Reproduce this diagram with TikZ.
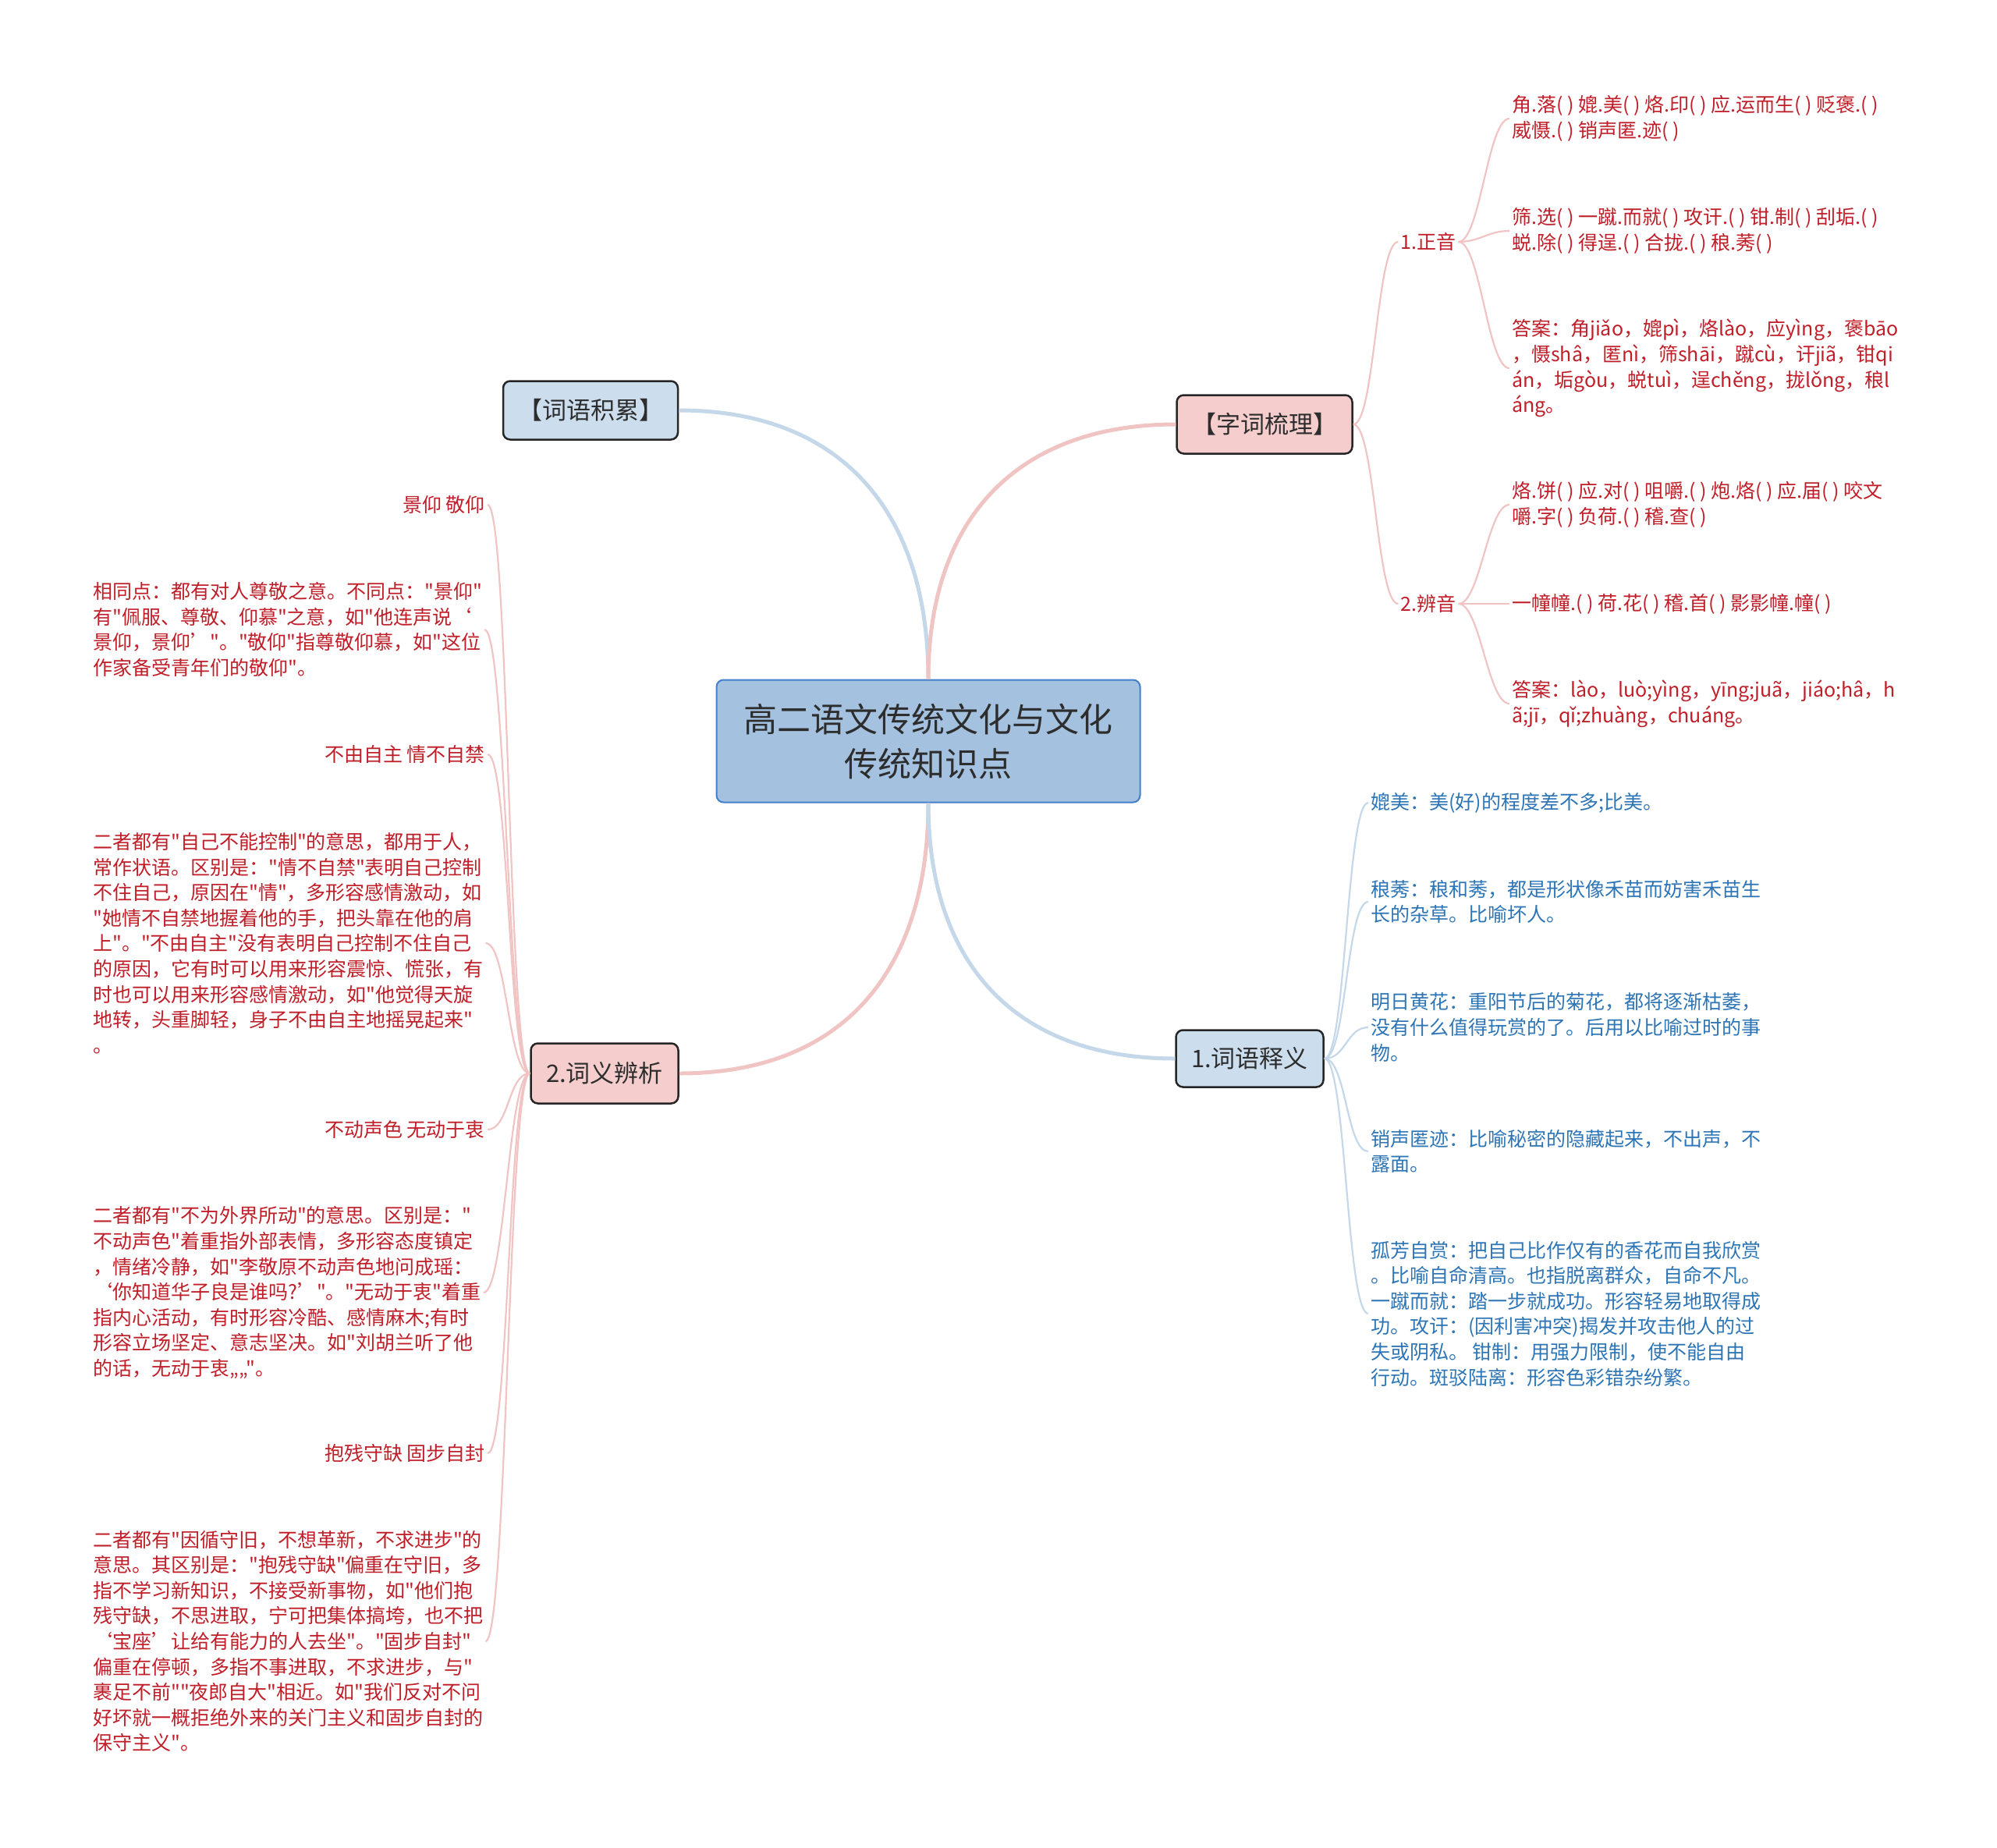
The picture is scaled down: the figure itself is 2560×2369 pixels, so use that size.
\documentclass[tikz,border=0pt]{standalone}
\usepackage{fontspec}
\setmainfont{Noto Sans CJK SC}[Ligatures=TeXOff]

\definecolor{rootfill}{RGB}{164,194,224}
\definecolor{rootline}{RGB}{66,128,204}
\definecolor{bluefill}{RGB}{204,222,238}
\definecolor{pinkfill}{RGB}{245,205,205}
\definecolor{bluelinkc}{RGB}{196,216,234}
\definecolor{pinklinkc}{RGB}{241,196,196}
\definecolor{redtext}{RGB}{192,30,40}
\definecolor{bluetext}{RGB}{46,117,182}
\definecolor{darktext}{RGB}{45,45,45}

\begin{document}
\begin{tikzpicture}[
  x=1pt, y=-1pt,
  every node/.style={font=\fontsize{25}{32.6}\selectfont},
  rootnode/.style={rectangle, draw=rootline, fill=rootfill, line width=2pt, rounded corners=9pt, minimum width=543pt, minimum height=157pt, align=center, text=darktext, font=\fontsize{43}{57}\selectfont},
  topicblue/.style={rectangle, draw=black!85, fill=bluefill, line width=2.5pt, rounded corners=9pt, minimum height=75pt, text=darktext, font=\fontsize{31}{37}\selectfont},
  topicpink/.style={topicblue, fill=pinkfill},
  leafred/.style={text=redtext, align=left, inner sep=3pt},
  leafblue/.style={text=bluetext, align=left, inner sep=3pt},
  hooklink/.style={to path={.. controls +(#1,0) and +(-#1,0) .. (\tikztotarget)}},
  bluelink/.style={draw=bluelinkc, line width=5pt},
  pinklink/.style={draw=pinklinkc, line width=5pt},
  thinpink/.style={draw=pinklinkc, line width=2.2pt, hooklink=28},
  thinblue/.style={draw=bluelinkc, line width=2.2pt, hooklink=28},
]

% page
\path[use as bounding box, fill=white] (0,0) rectangle (2560,2369);

% Root and main topics
\node[rootnode] (root) at (1190, 950) {高二语文传统文化与文化\\传统知识点};
\node[topicblue, minimum width=224pt] (jilei) at (757, 526) {【词语积累】};
\node[topicpink, minimum width=225pt] (shuli) at (1621, 544) {【字词梳理】};
\node[topicpink, minimum width=189pt, minimum height=77pt] (bianxi) at (775, 1376) {2.词义辨析};
\node[topicblue, minimum width=189pt, minimum height=73pt] (shiyi) at (1602, 1357) {1.词语释义};
\draw[bluelink] (root.north) to[out=90, in=0, looseness=1.15] (jilei.east);
\draw[pinklink] (root.north) to[out=90, in=180, looseness=1.15] (shuli.west);
\draw[pinklink] (root.south) to[out=-90, in=0, looseness=1.15] (bianxi.east);
\draw[bluelink] (root.south) to[out=-90, in=180, looseness=1.15] (shiyi.west);

% 字词梳理 (right, top)
\node[leafred] (zhengyin) at (1831, 310) {1.正音};
\node[leafred] (bianyin) at (1831, 774) {2.辨音};
\draw[thinpink] (shuli.east) to (zhengyin.west);
\draw[thinpink] (shuli.east) to (bianyin.west);

\node[leafred, anchor=west] (za) at (1935, 152) {角.落( ) 媲.美( ) 烙.印( ) 应.运而生( ) 贬褒.( )\\
威慑.( ) 销声匿.迹( )};
\node[leafred, anchor=west] (zb) at (1935, 296) {筛.选( ) 一蹴.而就( ) 攻讦.( ) 钳.制( ) 刮垢.( )\\
蜕.除( ) 得逞.( ) 合拢.( ) 稂.莠( )};
\node[leafred, anchor=west] (zc) at (1935, 472) {答案：角jiǎo，媲pì，烙lào，应yìng，褒bāo\\
，慑shâ，匿nì，筛shāi，蹴cù，讦jiã，钳qi\\
án，垢gòu，蜕tuì，逞chěng，拢lǒng，稂l\\
áng。};
\draw[thinpink] (zhengyin.east) to (za.west);
\draw[thinpink] (zhengyin.east) to (zb.west);
\draw[thinpink] (zhengyin.east) to (zc.west);

\node[leafred, anchor=west] (ba) at (1935, 647) {烙.饼( ) 应.对( ) 咀嚼.( ) 炮.烙( ) 应.届( ) 咬文\\
嚼.字( ) 负荷.( ) 稽.查( )};
\node[leafred, anchor=west] (bb) at (1935, 774) {一幢幢.( ) 荷.花( ) 稽.首( ) 影影幢.幢( )};
\node[leafred, anchor=west] (bc) at (1935, 902) {答案：lào，luò;yìng，yīng;juã，jiáo;hâ，h\\
ã;jī，qǐ;zhuàng，chuáng。};
\draw[thinpink] (bianyin.east) to (ba.west);
\draw[thinpink] (bianyin.east) to (bb.west);
\draw[thinpink] (bianyin.east) to (bc.west);

% 词语释义 (right, bottom)
\node[leafblue, anchor=west] (sa) at (1754, 1029) {媲美：美(好)的程度差不多;比美。};
\node[leafblue, anchor=west] (sb) at (1754, 1156) {稂莠：稂和莠，都是形状像禾苗而妨害禾苗生\\
长的杂草。比喻坏人。};
\node[leafblue, anchor=west] (sc) at (1754, 1317) {明日黄花：重阳节后的菊花，都将逐渐枯萎，\\
没有什么值得玩赏的了。后用以比喻过时的事\\
物。};
\node[leafblue, anchor=west] (sd) at (1754, 1476) {销声匿迹：比喻秘密的隐藏起来，不出声，不\\
露面。};
\node[leafblue, anchor=west] (se) at (1754, 1684) {孤芳自赏：把自己比作仅有的香花而自我欣赏\\
。比喻自命清高。也指脱离群众，自命不凡。\\
一蹴而就：踏一步就成功。形容轻易地取得成\\
功。攻讦：(因利害冲突)揭发并攻击他人的过\\
失或阴私。 钳制：用强力限制，使不能自由\\
行动。斑驳陆离：形容色彩错杂纷繁。};
\draw[thinblue] (shiyi.east) to (sa.west);
\draw[thinblue] (shiyi.east) to (sb.west);
\draw[thinblue] (shiyi.east) to (sc.west);
\draw[thinblue] (shiyi.east) to (sd.west);
\draw[thinblue] (shiyi.east) to (se.west);

% 词义辨析 (left)
\node[leafred, anchor=east] (la) at (625, 647) {景仰 敬仰};
\node[leafred, anchor=west] (lb) at (116, 807) {相同点：都有对人尊敬之意。不同点："景仰"\\
有"佩服、尊敬、仰慕"之意，如"他连声说‘\\
景仰，景仰’"。"敬仰"指尊敬仰慕，如"这位\\
作家备受青年们的敬仰"。};
\node[leafred, anchor=east] (lc) at (625, 967) {不由自主 情不自禁};
\node[leafred, anchor=west] (ld) at (116, 1209) {二者都有"自己不能控制"的意思，都用于人，\\
常作状语。区别是："情不自禁"表明自己控制\\
不住自己，原因在"情"，多形容感情激动，如\\
"她情不自禁地握着他的手，把头靠在他的肩\\
上"。"不由自主"没有表明自己控制不住自己\\
的原因，它有时可以用来形容震惊、慌张，有\\
时也可以用来形容感情激动，如"他觉得天旋\\
地转，头重脚轻，身子不由自主地摇晃起来"\\
。};
\node[leafred, anchor=east] (le) at (625, 1448) {不动声色 无动于衷};
\node[leafred, anchor=west] (lf) at (116, 1657) {二者都有"不为外界所动"的意思。区别是："\\
不动声色"着重指外部表情，多形容态度镇定\\
，情绪冷静，如"李敬原不动声色地问成瑶：\\
‘你知道华子良是谁吗?’"。"无动于衷"着重\\
指内心活动，有时形容冷酷、感情麻木;有时\\
形容立场坚定、意志坚决。如"刘胡兰听了他\\
的话，无动于衷„„"。};
\node[leafred, anchor=east] (lg) at (625, 1863) {抱残守缺 固步自封};
\node[leafred, anchor=west] (lh) at (116, 2104) {二者都有"因循守旧，不想革新，不求进步"的\\
意思。其区别是："抱残守缺"偏重在守旧，多\\
指不学习新知识，不接受新事物，如"他们抱\\
残守缺，不思进取，宁可把集体搞垮，也不把\\
‘宝座’让给有能力的人去坐"。"固步自封"\\
偏重在停顿，多指不事进取，不求进步，与"\\
裹足不前""夜郎自大"相近。如"我们反对不问\\
好坏就一概拒绝外来的关门主义和固步自封的\\
保守主义"。};
\draw[thinpink, hooklink=-28] (bianxi.west) to (la.east);
\draw[thinpink, hooklink=-28] (bianxi.west) to (lb.east);
\draw[thinpink, hooklink=-28] (bianxi.west) to (lc.east);
\draw[thinpink, hooklink=-28] (bianxi.west) to (ld.east);
\draw[thinpink, hooklink=-28] (bianxi.west) to (le.east);
\draw[thinpink, hooklink=-28] (bianxi.west) to (lf.east);
\draw[thinpink, hooklink=-28] (bianxi.west) to (lg.east);
\draw[thinpink, hooklink=-28] (bianxi.west) to (lh.east);

\end{tikzpicture}
\end{document}
